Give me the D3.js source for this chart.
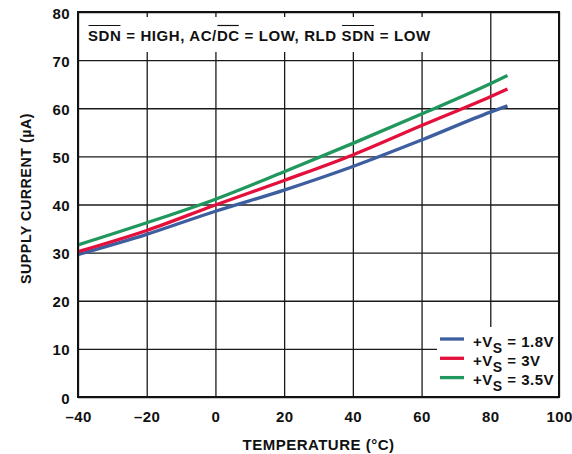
<!DOCTYPE html>
<html>
<head>
<meta charset="utf-8">
<script src="https://cdn.jsdelivr.net/npm/d3@7"></script>
<style>
  body { margin: 0; background: #fff; }
  svg { display: block; font-family: "Liberation Sans", Arial, sans-serif; font-weight: bold; }
</style>
</head>
<body>
<svg id="chart" width="572" height="454"></svg>
<script>
// temperature (°C) and supply current (µA)
const temps = [-40, -20, 0, 20, 40, 60, 80, 85];
const vs18 = [29.6, 33.8, 38.6, 43.0, 47.9, 53.4, 59.2, 60.5];
const vs3 = [30.2, 34.6, 39.9, 45.0, 50.3, 56.4, 62.4, 64.0];
const vs35 = [31.6, 36.2, 41.1, 46.8, 52.7, 58.8, 65.1, 66.8];
const seriesLabels = ['1.8V', '3V', '3.5V'];
const seriesColors = ['#3d5e9f', '#e2103a', '#20975d'];
const xTicks = [-40, -20, 0, 20, 40, 60, 80, 100];
const yTicks = [0, 10, 20, 30, 40, 50, 60, 70, 80];

const svgEl = document.getElementById('chart');
const margin = { top: 12, right: 13, bottom: 57, left: 78 };
const width = 572 - margin.left - margin.right;
const height = 454 - margin.top - margin.bottom;

const svg = d3.select(svgEl)
  .append('g')
  .attr('transform', `translate(${margin.left},${margin.top})`);

const x = d3.scaleLinear().domain([-40, 100]).range([0, width]);
const y = d3.scaleLinear().domain([0, 80]).range([height, 0]);
const fmt = (d) => (d < 0 ? '\u2013' + Math.abs(d) : String(d));

// grid lines through the axes
const xAxisGroup = svg.append('g')
  .attr('transform', `translate(0,${height})`)
  .call(d3.axisBottom(x).tickValues(xTicks).tickSize(-height).tickFormat(fmt));
const yAxisGroup = svg.append('g')
  .call(d3.axisLeft(y).tickValues(yTicks).tickSize(-width).tickFormat(fmt));

[xAxisGroup, yAxisGroup].forEach((g) => {
  g.select('.domain').remove();
  g.selectAll('.tick line').attr('stroke', '#1a1a1a').attr('stroke-width', 1.3);
  g.selectAll('.tick text')
    .attr('fill', '#111')
    .style('font-size', '15px')
    .style('letter-spacing', '0.4px')
    .style('font-weight', 'bold')
    .style('font-family', '"Liberation Sans", Arial, sans-serif');
});
xAxisGroup.selectAll('.tick text').attr('y', 25).attr('dy', 0);
yAxisGroup.selectAll('.tick text').attr('x', -8).attr('dy', '0.4em');

// white panels behind the condition note and the legend
svg.append('rect')
  .attr('x', 2).attr('y', 5).attr('width', 355).attr('height', 35)
  .attr('fill', '#fff');
svg.append('rect')
  .attr('x', 359).attr('y', 315).attr('width', width - 360).attr('height', height - 316)
  .attr('fill', '#fff');

// curves
const data = [vs18, vs3, vs35];
const line = d3.line()
  .x((d, i) => x(temps[i]))
  .y((d) => y(d))
  .curve(d3.curveMonotoneX);

svg.append('g').selectAll('path.curve')
  .data(data)
  .join('path')
  .attr('class', 'curve')
  .attr('fill', 'none')
  .attr('stroke', (d, i) => seriesColors[i])
  .attr('stroke-width', 3.3)
  .attr('stroke-linecap', 'butt')
  .attr('d', line);

// frame
svg.append('rect')
  .attr('width', width).attr('height', height)
  .attr('fill', 'none').attr('stroke', '#111').attr('stroke-width', 2);

// condition note with overlines
const note = svg.append('text')
  .attr('x', 10).attr('y', 29)
  .attr('fill', '#111')
  .style('font-size', '15px')
  .style('letter-spacing', '0.6px');
const noteParts = [
  ['SDN', true], [' = HIGH, AC/', false], ['DC', true],
  [' = LOW, RLD ', false], ['SDN', true], [' = LOW', false]
];
noteParts.forEach(([t]) => note.append('tspan').text(t));

let idx = 0;
const noteNode = note.node();
noteParts.forEach(([t, over]) => {
  if (over) {
    const a = noteNode.getExtentOfChar(idx);
    const b = noteNode.getExtentOfChar(idx + t.length - 1);
    svg.append('line')
      .attr('x1', a.x + 0.5).attr('x2', b.x + b.width - 1)
      .attr('y1', 13.5).attr('y2', 13.5)
      .attr('stroke', '#111').attr('stroke-width', 1.2);
  }
  idx += t.length;
});

// legend
const legend = svg.append('g').attr('transform', `translate(${362},${327})`);
seriesLabels.forEach((lab, i) => {
  const row = legend.append('g').attr('transform', `translate(0,${i * 19.3})`);
  row.append('line')
    .attr('x1', 0).attr('x2', 24)
    .attr('stroke', seriesColors[i]).attr('stroke-width', 3.3);
  const t = row.append('text')
    .attr('x', 33).attr('y', 7.5)
    .attr('fill', '#111')
    .style('font-size', '15px')
    .style('letter-spacing', '0.5px');
  t.append('tspan').text('+V');
  t.append('tspan').text('S').attr('dy', 6).style('font-size', '14px');
  t.append('tspan').text(` = ${lab}`).attr('dy', -6);
});

// axis titles
svg.append('text')
  .attr('x', width / 2).attr('y', height + 53)
  .attr('text-anchor', 'middle')
  .attr('fill', '#111')
  .style('font-size', '15px')
  .style('letter-spacing', '0.5px')
  .text('TEMPERATURE (°C)');

svg.append('text')
  .attr('transform', 'rotate(-90)')
  .attr('x', -height / 2 + 6).attr('y', -margin.left + 31)
  .attr('text-anchor', 'middle')
  .attr('fill', '#111')
  .style('font-size', '14.3px')
  .style('letter-spacing', '0.5px')
  .text('SUPPLY CURRENT (µA)');
</script>
</body>
</html>
